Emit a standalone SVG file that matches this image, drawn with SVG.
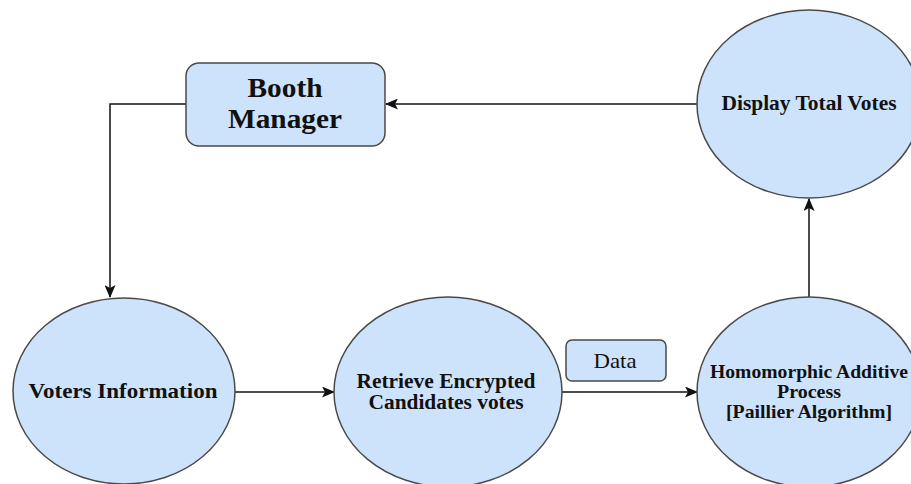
<svg xmlns="http://www.w3.org/2000/svg" width="911" height="484" viewBox="0 0 911 484">
<defs>
<style>
.n{fill:#cde3fb;stroke:#4a4a4a;stroke-width:1.5}
.t{font-family:"Liberation Serif",serif;font-weight:bold;fill:#111;text-anchor:middle}
.e{fill:none;stroke:#111;stroke-width:1.5}
</style>
<marker id="a" markerWidth="13" markerHeight="11" refX="12" refY="5.5" orient="auto" markerUnits="userSpaceOnUse">
<path d="M0,0 L13,5.5 L0,11 L3,5.5 z" fill="#111"/>
</marker>
</defs>
<rect width="911" height="484" fill="#fff"/>
<g id="connectors">
<path class="e" d="M697,104 L386,104" marker-end="url(#a)"/>
<path class="e" d="M186,104 L110,104 L110,297" marker-end="url(#a)"/>
<path class="e" d="M235,392 L334,392" marker-end="url(#a)"/>
<path class="e" d="M562,392 L697,392" marker-end="url(#a)"/>
<path class="e" d="M809,297 L809,199" marker-end="url(#a)"/>
</g>
<g id="booth">
<rect class="n" x="186" y="63" width="199" height="83" rx="13"/>
<text class="t" x="285" y="97" font-size="27" textLength="75" lengthAdjust="spacingAndGlyphs">Booth</text>
<text class="t" x="285" y="128" font-size="27" textLength="114" lengthAdjust="spacingAndGlyphs">Manager</text>
</g>
<g id="display">
<ellipse class="n" cx="809" cy="104" rx="112" ry="94"/>
<text class="t" x="809" y="110" font-size="20" textLength="175" lengthAdjust="spacingAndGlyphs">Display Total Votes</text>
</g>
<g id="voters">
<ellipse class="n" cx="124" cy="391" rx="111" ry="93"/>
<text class="t" x="123" y="398" font-size="22" textLength="189" lengthAdjust="spacingAndGlyphs">Voters Information</text>
</g>
<g id="retrieve">
<ellipse class="n" cx="448" cy="392" rx="114" ry="95"/>
<text class="t" x="446" y="388" font-size="20" textLength="179" lengthAdjust="spacingAndGlyphs">Retrieve Encrypted</text>
<text class="t" x="446" y="409" font-size="20" textLength="155" lengthAdjust="spacingAndGlyphs">Candidates votes</text>
</g>
<g id="data">
<rect class="n" x="566" y="340" width="100" height="41" rx="6"/>
<text x="615" y="368" font-size="21" font-family="Liberation Serif,serif" fill="#111" text-anchor="middle" textLength="43" lengthAdjust="spacingAndGlyphs">Data</text>
</g>
<g id="homomorphic">
<ellipse class="n" cx="809" cy="392" rx="112" ry="95"/>
<text class="t" x="809" y="378" font-size="19" textLength="198" lengthAdjust="spacingAndGlyphs">Homomorphic Additive</text>
<text class="t" x="809" y="398" font-size="19" textLength="64" lengthAdjust="spacingAndGlyphs">Process</text>
<text class="t" x="809" y="418" font-size="19" textLength="166" lengthAdjust="spacingAndGlyphs">[Paillier Algorithm]</text>
</g>
</svg>
